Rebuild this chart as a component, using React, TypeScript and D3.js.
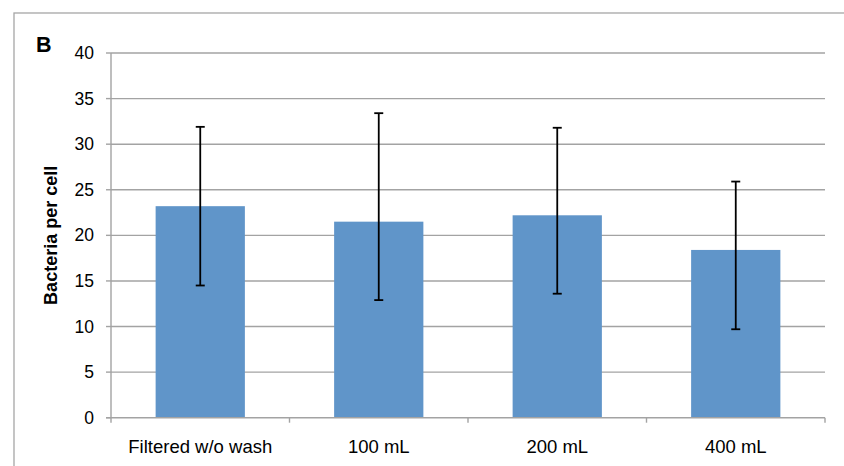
import React from "react";
import * as d3 from "d3";

const categories = ["Filtered w/o wash", "100 mL", "200 mL", "400 mL"];
const means = [23.2, 21.5, 22.2, 18.4];
const errHigh = [31.9, 33.4, 31.8, 25.9];
const errLow = [14.5, 12.9, 13.6, 9.7];
const yTicks = [0, 5, 10, 15, 20, 25, 30, 35, 40];

const W = 844;
const H = 466;
const plot = { left: 111, right: 825, top: 53, bottom: 417.7 };
const font = "Liberation Sans, Arial, Helvetica, sans-serif";

export default function App() {
  const x = d3
    .scaleBand<string>()
    .domain(categories)
    .range([plot.left, plot.right])
    .paddingInner(0.5)
    .paddingOuter(0.25);
  const y = d3.scaleLinear().domain([0, 40]).range([plot.bottom, plot.top]);
  const step = x.step();
  const boundaries = d3.range(categories.length + 1).map((i) => plot.left + i * step);

  return (
    <svg
      width={W}
      height={H}
      style={{ position: "absolute", left: 0, top: 0, background: "#fff" }}
      fontFamily={font}
    >
      {/* chart frame */}
      <rect x={14} y={13} width={W} height={H} fill="none" stroke="#a6a6a6" strokeWidth={1.3} />

      <text x={36} y={51.5} fontSize={21.5} fontWeight="bold" fill="#000">B</text>

      {/* horizontal gridlines and y ticks */}
      {yTicks.map((t) => (
        <g key={t}>
          {t > 0 && (
            <line x1={plot.left} x2={plot.right} y1={y(t)} y2={y(t)} stroke="#a3a3a3" strokeWidth={1.4} />
          )}
          <line x1={plot.left - 5} x2={plot.left} y1={y(t)} y2={y(t)} stroke="#a3a3a3" strokeWidth={1.4} />
          <text x={94} y={y(t)} dy="0.35em" textAnchor="end" fontSize={17.5} fill="#000">
            {t}
          </text>
        </g>
      ))}

      {/* bars */}
      {categories.map((c, i) => (
        <rect
          key={c}
          x={x(c)}
          y={y(means[i])}
          width={x.bandwidth()}
          height={y(0) - y(means[i])}
          fill="#6095c9"
        />
      ))}

      {/* axes */}
      <line x1={plot.left} x2={plot.left} y1={plot.top} y2={plot.bottom} stroke="#a3a3a3" strokeWidth={1.4} />
      <line x1={plot.left - 5} x2={plot.right} y1={plot.bottom} y2={plot.bottom} stroke="#a3a3a3" strokeWidth={1.4} />
      {boundaries.map((bx, i) => (
        <line key={i} x1={bx} x2={bx} y1={plot.bottom} y2={plot.bottom + 5} stroke="#a3a3a3" strokeWidth={1.4} />
      ))}

      {/* error bars */}
      {categories.map((c, i) => {
        const cx = (x(c) ?? 0) + x.bandwidth() / 2;
        return (
          <g key={c} stroke="#000" strokeWidth={1.8}>
            <line x1={cx} x2={cx} y1={y(errHigh[i])} y2={y(errLow[i])} />
            <line x1={cx - 4.5} x2={cx + 4.5} y1={y(errHigh[i])} y2={y(errHigh[i])} />
            <line x1={cx - 4.5} x2={cx + 4.5} y1={y(errLow[i])} y2={y(errLow[i])} />
          </g>
        );
      })}

      {/* category labels */}
      {categories.map((c) => (
        <text
          key={c}
          x={(x(c) ?? 0) + x.bandwidth() / 2}
          y={452.5}
          textAnchor="middle"
          fontSize={18.5}
          fill="#000"
        >
          {c}
        </text>
      ))}

      <text
        transform={`translate(56.5, ${(plot.top + plot.bottom) / 2}) rotate(-90)`}
        textAnchor="middle"
        fontSize={18}
        fontWeight="bold"
        fill="#000"
      >
        Bacteria per cell
      </text>
    </svg>
  );
}
